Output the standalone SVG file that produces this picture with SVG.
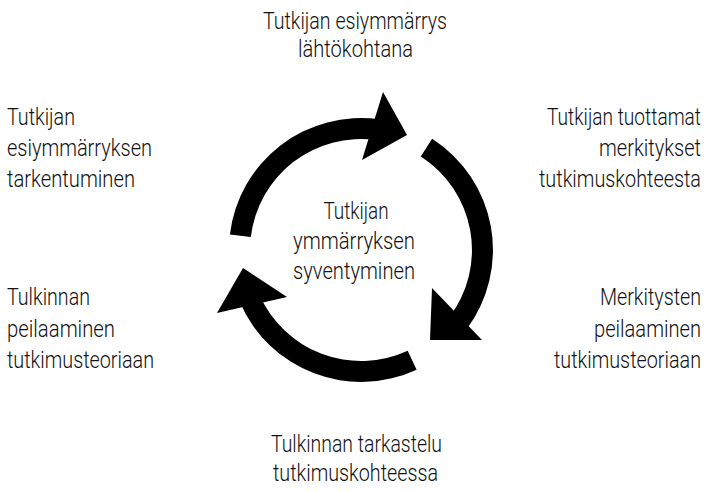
<svg xmlns="http://www.w3.org/2000/svg" width="707" height="491" viewBox="0 0 707 491">
<style>
  text { font-family: Roboto, "Liberation Sans", "DejaVu Sans", sans-serif; font-size: 23.5px; font-weight: 300; fill: #111; }
  .r { text-anchor: end; }
  .c { text-anchor: middle; }
  .arrow { fill: #000; stroke: none; }
</style>
<rect width="707" height="491" fill="#fff"/>
<g id="connectors">
  <g id="arrow-top">
    <path class="arrow" d="M229.9,234.4 A132,132 0 0 1 379.4,119.3 L376.4,140.1 A111,111 0 0 0 250.8,236.9 Z"/>
    <polygon class="arrow" points="383,92 407,135 362,160"/>
  </g>
  <g id="arrow-right">
    <path class="arrow" d="M432.1,138.8 A132,132 0 0 1 466.4,329.4 L449.6,316.8 A111,111 0 0 0 420.8,156.5 Z"/>
    <polygon class="arrow" points="432,288 482,340 430,340"/>
  </g>
  <g id="arrow-left">
    <path class="arrow" d="M416.6,369.7 A132,132 0 0 1 240.0,302.6 L259.2,294.3 A111,111 0 0 0 407.7,350.7 Z"/>
    <polygon class="arrow" points="217,313 243,268 287,297"/>
  </g>
</g>
<g id="node-top">
  <text class="c" transform="translate(355,29) scale(0.82,1)" textLength="224.4" lengthAdjust="spacingAndGlyphs">Tutkijan esiymmärrys</text>
  <text class="c" transform="translate(355.5,57) scale(0.82,1)" textLength="140.2" lengthAdjust="spacingAndGlyphs">lähtökohtana</text>
</g>
<g id="node-left-top">
  <text transform="translate(7,125) scale(0.82,1)" textLength="82.9" lengthAdjust="spacingAndGlyphs">Tutkijan</text>
  <text transform="translate(7,156) scale(0.82,1)" textLength="176.8" lengthAdjust="spacingAndGlyphs">esiymmärryksen</text>
  <text transform="translate(7,187) scale(0.82,1)" textLength="156.1" lengthAdjust="spacingAndGlyphs">tarkentuminen</text>
</g>
<g id="node-right-top">
  <text class="r" transform="translate(701,125) scale(0.82,1)" textLength="187.8" lengthAdjust="spacingAndGlyphs">Tutkijan tuottamat</text>
  <text class="r" transform="translate(701,156) scale(0.82,1)" textLength="124.4" lengthAdjust="spacingAndGlyphs">merkitykset</text>
  <text class="r" transform="translate(701,187) scale(0.82,1)" textLength="197.6" lengthAdjust="spacingAndGlyphs">tutkimuskohteesta</text>
</g>
<g id="node-center">
  <text class="c" transform="translate(356,219) scale(0.82,1)" textLength="79.3" lengthAdjust="spacingAndGlyphs">Tutkijan</text>
  <text class="c" transform="translate(354,249) scale(0.82,1)" textLength="148.8" lengthAdjust="spacingAndGlyphs">ymmärryksen</text>
  <text class="c" transform="translate(354,279) scale(0.82,1)" textLength="148.8" lengthAdjust="spacingAndGlyphs">syventyminen</text>
</g>
<g id="node-left-bottom">
  <text transform="translate(7,305) scale(0.82,1)" textLength="101.2" lengthAdjust="spacingAndGlyphs">Tulkinnan</text>
  <text transform="translate(7,337) scale(0.82,1)" textLength="131.7" lengthAdjust="spacingAndGlyphs">peilaaminen</text>
  <text transform="translate(7,368) scale(0.82,1)" textLength="179.3" lengthAdjust="spacingAndGlyphs">tutkimusteoriaan</text>
</g>
<g id="node-right-bottom">
  <text class="r" transform="translate(701,305) scale(0.82,1)" textLength="123.2" lengthAdjust="spacingAndGlyphs">Merkitysten</text>
  <text class="r" transform="translate(701,337) scale(0.82,1)" textLength="130.5" lengthAdjust="spacingAndGlyphs">peilaaminen</text>
  <text class="r" transform="translate(701,368) scale(0.82,1)" textLength="179.3" lengthAdjust="spacingAndGlyphs">tutkimusteoriaan</text>
</g>
<g id="node-bottom">
  <text class="c" transform="translate(356.5,452) scale(0.82,1)" textLength="208.5" lengthAdjust="spacingAndGlyphs">Tulkinnan tarkastelu</text>
  <text class="c" transform="translate(355.5,481) scale(0.82,1)" textLength="201.2" lengthAdjust="spacingAndGlyphs">tutkimuskohteessa</text>
</g>
</svg>
